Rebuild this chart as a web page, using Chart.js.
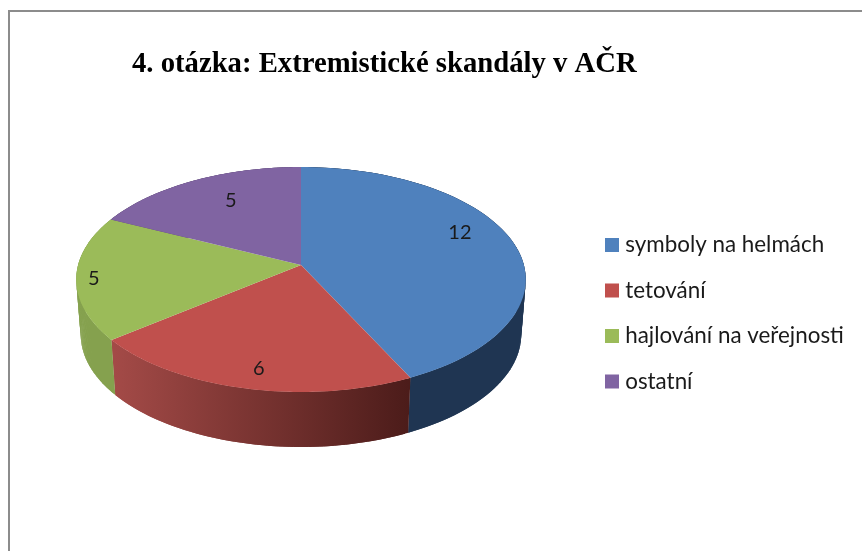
<!DOCTYPE html>
<html lang="cs">
<head>
<meta charset="utf-8">
<title>4. otázka</title>
<style>
html,body{margin:0;padding:0;background:#fff;overflow:hidden}
#page{position:relative;width:862px;height:551px;overflow:hidden}
#frame{position:absolute;left:8px;top:10px;width:854px;height:541px;box-sizing:border-box;border-left:2.5px solid #8c8c8c;border-top:2.5px solid #8c8c8c}
canvas{position:absolute;left:0;top:0}
</style>
<script src="https://cdn.jsdelivr.net/npm/chart.js@4"></script>
</head>
<body>
<div id="page"><div id="frame"></div><canvas id="c" width="862" height="551"></canvas></div>
<script>
const chartTitle = '4. otázka: Extremistické skandály v AČR';
const categories = ['symboly na helmách', 'tetování', 'hajlování na veřejnosti', 'ostatní'];
const values = [12, 6, 5, 5];
const topColors = ['#4F81BD', '#C0504D', '#9BBB59', '#8064A2'];
const wallColors = [['#1F3552', '#1F3552'], ['#A34A47', '#4C1C1A'], ['#85A14E', '#85A14E'], ['#5A4672', '#5A4672']];
const labelNudges = [[-11, -13], [2, 8], [-28, 4], [17, 4]];

// Perspective view of the flat pie: tilt + slight foreshortening of the far side
const view = { stretchX: 1.99, stretchY: 0.9875, k: -0.129, wallScaleX: 0.98, wallScaleY: 1.0, wallDrop: 55 };

function project(arc, angle, frac, lower) {
  const R = arc.outerRadius;
  const X = frac * Math.cos(angle), Y = frac * Math.sin(angle);
  const d = 1 + view.k * Y;
  const px = view.stretchX * R * X / d, py = view.stretchY * R * Y / d;
  return lower
    ? { x: arc.x + px * view.wallScaleX, y: arc.y + py * view.wallScaleY + view.wallDrop }
    : { x: arc.x + px, y: arc.y + py };
}

const pie3d = {
  id: 'pie3d',
  afterLayout(chart) {
    const t = chart.titleBlock;
    t.left = 132; t.right = 800; t.top = 47; t.bottom = 81;
    const l = chart.legend;
    l.left = 586.9; l.right = 862; l.top = 210.7; l.bottom = 551;
    Object.assign(chart.chartArea, { left: 76, right: 526, top: 153, bottom: 377, width: 450, height: 224 });
  },
  beforeDatasetsDraw(chart) {
    const ctx = chart.ctx;
    const arcs = chart.getDatasetMeta(0).data;
    const steps = 90;
    // side walls first, tops over them
    arcs.forEach((arc, i) => {
      const pts = [], low = [];
      for (let s = 0; s <= steps; s++) {
        const a = arc.startAngle + (arc.endAngle - arc.startAngle) * s / steps;
        pts.push(project(arc, a, 1, false));
        low.push(project(arc, a, 1, true));
      }
      const xs = low.map(p => p.x);
      const g = ctx.createLinearGradient(Math.min(...xs), 0, Math.max(...xs), 0);
      g.addColorStop(0, wallColors[i][0]);
      g.addColorStop(1, wallColors[i][1]);
      ctx.fillStyle = g;
      for (let s = 0; s < steps; s++) {
        const e = Math.min(s + 2, steps);
        ctx.beginPath();
        ctx.moveTo(pts[s].x, pts[s].y);
        ctx.lineTo(pts[e].x, pts[e].y);
        ctx.lineTo(low[e].x, low[e].y);
        ctx.lineTo(low[s].x, low[s].y);
        ctx.closePath();
        ctx.fill();
      }
    });
    arcs.forEach((arc, i) => {
      ctx.beginPath();
      ctx.moveTo(arc.x, arc.y);
      for (let s = 0; s <= steps; s++) {
        const a = arc.startAngle + (arc.endAngle - arc.startAngle) * s / steps;
        const p = project(arc, a, 1, false);
        ctx.lineTo(p.x, p.y);
      }
      ctx.closePath();
      ctx.fillStyle = topColors[i];
      ctx.fill();
    });
    ctx.save();
    ctx.font = '20px Lato';
    ctx.fillStyle = '#1a1a1a';
    ctx.textAlign = 'center';
    ctx.textBaseline = 'middle';
    arcs.forEach((arc, i) => {
      const p = project(arc, (arc.startAngle + arc.endAngle) / 2, 0.8, false);
      ctx.fillText(String(values[i]), p.x + labelNudges[i][0], p.y + labelNudges[i][1]);
    });
    ctx.restore();
    return false;
  }
};

new Chart(document.getElementById('c'), {
  type: 'pie',
  data: {
    labels: categories,
    datasets: [{ data: values, backgroundColor: topColors, borderWidth: 0 }]
  },
  options: {
    responsive: false,
    animation: false,
    events: [],
    plugins: {
      tooltip: { enabled: false },
      title: {
        display: true,
        text: chartTitle,
        align: 'start',
        color: '#000',
        padding: 0,
        font: { family: '"Liberation Serif"', size: 28.7, weight: 'bold', lineHeight: 1.2 }
      },
      legend: {
        display: true,
        position: 'right',
        align: 'start',
        labels: {
          boxWidth: 4,
          boxHeight: 4,
          padding: 23.1,
          color: '#1a1a1a',
          font: { family: 'Lato', size: 22.4 },
          generateLabels(chart) {
            return categories.map((text, i) => ({
              text,
              index: i,
              fillStyle: topColors[i],
              strokeStyle: topColors[i],
              fontColor: '#1a1a1a',
              lineWidth: 10,
              hidden: false
            }));
          }
        }
      }
    }
  },
  plugins: [pie3d]
});
</script>
</body>
</html>
